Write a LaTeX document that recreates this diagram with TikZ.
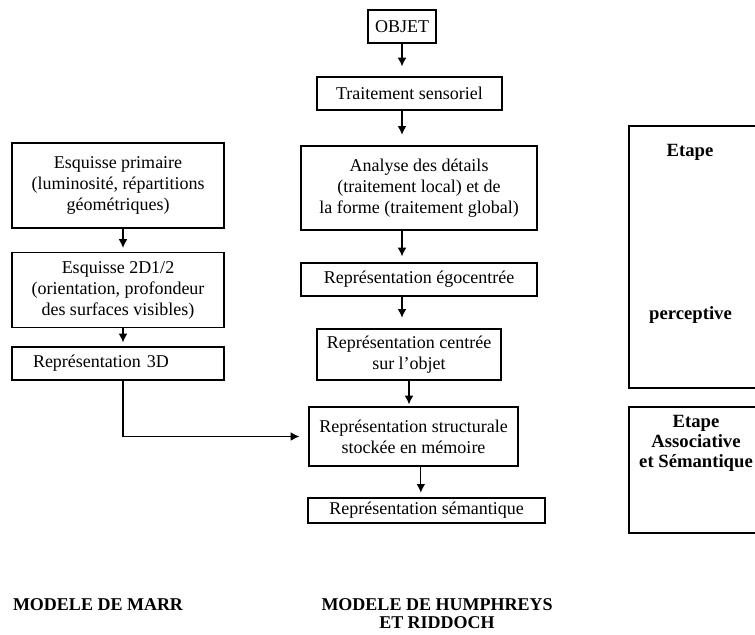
\documentclass[tikz,border=0pt]{standalone}
\usepackage{fontspec}
\setmainfont{Liberation Serif}
\usetikzlibrary{arrows.meta}

\begin{document}
\begin{tikzpicture}[x=0.75pt,y=-0.75pt,>={Latex[length=6.5pt,width=6.5pt]},
	box/.style={draw,line width=0.9pt,align=center,inner sep=0pt,font=\fontsize{13.5}{15.75}\selectfont},
	boxsize/.style 2 args={minimum width=#1*0.75pt,minimum height=#2*0.75pt},
	bold/.style={align=center,inner sep=0pt,font=\fontsize{14}{15}\selectfont\bfseries},
	link/.style={->,line width=0.9pt}]
	
	\useasboundingbox (0,0) rectangle (755,634);
	\clip (0,0) rectangle (755,634);
	
	% Draw the Humphreys and Riddoch column
	\node[box,boxsize={68}{33}] (objet) at (402,26.5) {OBJET};
	\node[box,boxsize={185}{33}] (trait) at (409.5,93.5) {Traitement sensoriel};
	\node[box,boxsize={236}{84}] (analyse) at (419,188) {Analyse des détails\\(traitement local) et de\\la forme (traitement global)};
	\node[box,boxsize={236}{33}] (ego) at (419,279.5) {Représentation égocentrée};
	\node[box,boxsize={184}{51}] (centree) at (409,354.5) {Représentation centrée\\sur l’objet};
	\node[box,boxsize={209}{59}] (struct) at (413.5,436.5) {Représentation structurale\\stockée en mémoire};
	\node[box,boxsize={237}{25}] (sem) at (426.5,510.5) {Représentation sémantique};
	
	% Draw the Marr column
	\node[box,boxsize={212}{85}] (prim) at (118,185.5) {Esquisse primaire\\(luminosité, répartitions\\géométriques)};
	\node[box,boxsize={212}{75}] (deux) at (118,290) {Esquisse 2D1/2\\(orientation, profondeur\\des surfaces visibles)};
	\node[box,boxsize={212}{33},text width=127.5pt,align=left] (trois) at (118,363.5) {Représentation 3D};
	
	% Draw the stages
	\node[box,boxsize={151}{262}] (percep) at (704.5,257) {};
	\node[box,boxsize={151}{126}] (assoc) at (704.5,470) {};
	\node[bold] (etape) at (690,152) {Etape};
	\node[bold] (perceptive) at (690.5,315) {perceptive};
	\node[bold] (etapeas) at (696,443) {Etape\\Associative\\et Sémantique};
	
	% Draw the arrows
	\draw[link,shorten >=7.5pt] (objet) -- (objet |- trait.north);
	\draw[link,shorten >=8pt] (trait.south -| objet) -- (analyse.north -| objet);
	\draw[link,shorten >=4.5pt] (analyse.south -| objet) -- (ego.north -| objet);
	\draw[link,shorten >=8pt] (ego.south -| objet) -- (centree.north -| objet);
	\draw[link,shorten >=1.5pt] (centree) -- (centree |- struct.north);
	\draw[link,shorten >=3.5pt] ([xshift=5.5pt]struct.south) -- ([xshift=5.5pt]struct.south |- sem.north);
	\draw[link,shorten >=3pt] ([xshift=3.75pt]prim.south) -- ([xshift=3.75pt]prim.south |- deux.north);
	\draw[link,shorten >=3pt] ([xshift=3.75pt]deux.south) -- ([xshift=3.75pt]deux.south |- trois.north);
	\draw[link,shorten >=6.75pt] ([xshift=3.75pt]trois.south) |- (struct.west);
	
	% Draw the model names
	\node[bold,font=\fontsize{13.5}{13.5}\selectfont\bfseries] (marr) at (98,605) {MODELE DE MARR};
	\node[bold,font=\fontsize{13.5}{13.5}\selectfont\bfseries] (humph) at (437,614) {MODELE DE HUMPHREYS\\ET RIDDOCH};
	
\end{tikzpicture}
\end{document}
